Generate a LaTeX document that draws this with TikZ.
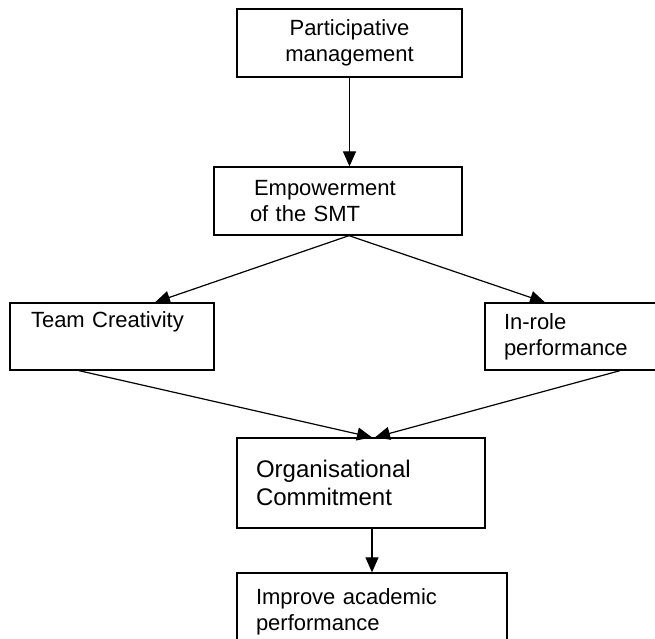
\documentclass[tikz,border=0pt]{standalone}
\usepackage{fontspec}
\setmainfont{Liberation Sans}
\usetikzlibrary{arrows.meta}

\begin{document}
\begin{tikzpicture}[x=1pt,y=-1pt,->,>={Triangle[length=15pt,width=13pt]},line width=1.2pt,
  main node/.style={rectangle,draw,line width=1.3pt,align=left,inner ysep=0pt,
    font=\fontsize{22}{26}\selectfont}]
  \useasboundingbox (0,0) rectangle (655,638);

  \node[main node,align=center,minimum width=225,minimum height=68,inner xsep=10,text width=205] (1) at (349.5,43) {Participative\\management};
  \node[main node,minimum width=248,minimum height=68,inner xsep=40,text width=168] (2) at (338,201) {Empowerment\\[-0pt]\hspace*{-4pt}of the SMT};
  \node[main node,minimum width=204,minimum height=67,inner xsep=21,text width=162] (3) at (112,336.5) {Team Creativity\\ \strut};
  \node[main node,minimum width=185,minimum height=67,inner xsep=19,text width=147] (4) at (577.5,336.5) {In-role\\performance};
  \node[main node,minimum width=248,minimum height=90,inner xsep=19,text width=210,
    font=\fontsize{24}{28}\selectfont] (5) at (361,483) {Organisational\\Commitment};
  \node[main node,minimum width=270,minimum height=77,inner xsep=19,text width=232] (6) at (372,611.5) {Improve academic\\performance};

  \path
    (1.south) edge (1.south |- 2.north)
    ([xshift=11]2.south) edge ([xshift=43]3.north)
    ([xshift=11]2.south) edge ([xshift=-32.5]4.north)
    ([xshift=-33]3.south) edge ([xshift=11]5.north)
    ([xshift=42.5]4.south) edge ([xshift=14]5.north)
    (5.south -| 6.north) edge (6.north);
\end{tikzpicture}
\end{document}
